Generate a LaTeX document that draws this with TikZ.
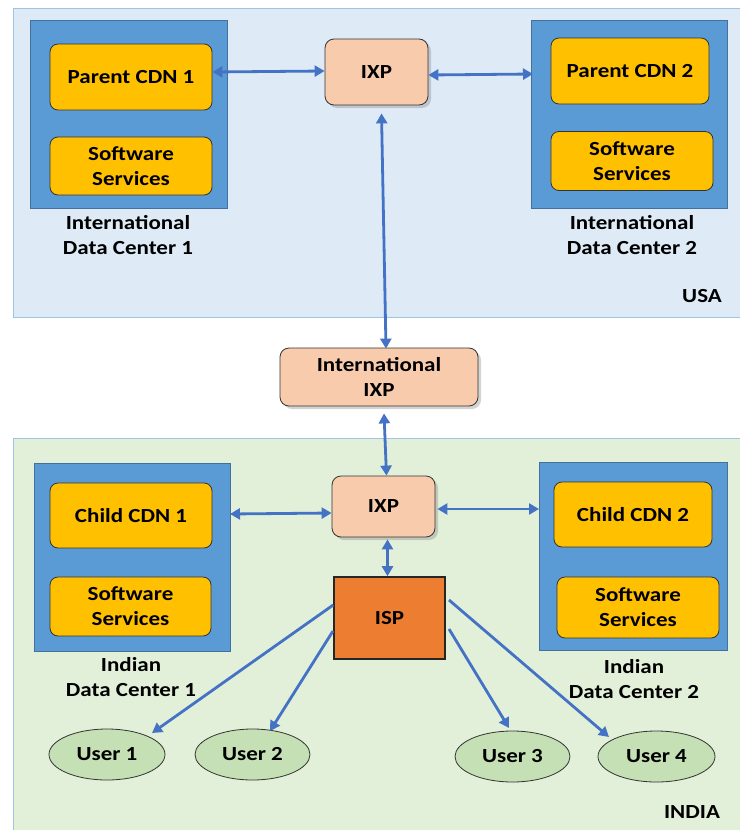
\documentclass[tikz,border=0pt]{standalone}
\usepackage{fontspec}
\setmainfont{Carlito}[FakeStretch=1.15]
\usetikzlibrary{shadows,arrows.meta,shapes.geometric}
\definecolor{usafill}{HTML}{DEEBF7}
\definecolor{indfill}{HTML}{E2F0D9}
\definecolor{regborder}{HTML}{9DC3E6}
\definecolor{dcblue}{HTML}{5B9BD5}
\definecolor{dcborder}{HTML}{41719C}
\definecolor{gold}{HTML}{FFC000}
\definecolor{peach}{HTML}{F8CBAD}
\definecolor{ispor}{HTML}{ED7D31}
\definecolor{usergreen}{HTML}{C5E0B4}
\definecolor{arrowblue}{HTML}{4472C4}
\tikzset{
  lbl/.style={font=\bfseries\fontsize{20}{25}\selectfont, align=center, text=black},
  dcbox/.style={draw=dcborder, fill=dcblue, line width=1pt},
  cdnbox/.style={draw=black!80, fill=gold, rounded corners=8pt, line width=0.8pt, lbl},
  ixpbox/.style={draw=black!80, fill=peach, rounded corners=9pt, line width=0.8pt, lbl, drop shadow={shadow xshift=3pt, shadow yshift=-3pt, opacity=0.35}},
  userell/.style={ellipse, draw=black!80, fill=usergreen, line width=0.8pt, lbl, inner sep=0pt},
  conn/.style={draw=arrowblue, line width=2.8pt, {Triangle[length=10pt,width=11pt]}-{Triangle[length=10pt,width=11pt]}},
  oneway/.style={draw=arrowblue, line width=2.8pt, -{Triangle[length=10pt,width=11pt]}},
}
\begin{document}
\begin{tikzpicture}[x=1pt,y=-1pt]
\useasboundingbox (0,0) rectangle (739,830);
% regions
\fill[usafill] (13,8) rectangle (740,317);
\draw[regborder, line width=1pt] (740,8) -- (13,8) -- (13,317) -- (740,317);
\fill[indfill] (13,438) rectangle (740,830);
\draw[regborder, line width=1pt] (740,438) -- (13,438) -- (13,830);
\node[lbl, anchor=center] (usa) at (702,296) {USA};
\node[lbl, anchor=center] (india) at (692,812) {INDIA};

% USA data centers
\draw[dcbox] (30,20) rectangle (227,208);
\node[cdnbox, minimum width=162pt, minimum height=66pt] (pcdn1) at (131,77) {Parent CDN 1};
\node[cdnbox, minimum width=162pt, minimum height=58pt] (ss1) at (131,166) {Software\\Services};
\node[lbl] (dc1) at (128,235) {International\\Data Center 1};

\draw[dcbox] (531,20) rectangle (727,208);
\node[cdnbox, minimum width=158pt, minimum height=66pt] (pcdn2) at (630,71) {Parent CDN 2};
\node[cdnbox, minimum width=162pt, minimum height=59pt] (ss2) at (632,161) {Software\\Services};
\node[lbl] (dc2) at (632,235) {International\\Data Center 2};

\node[ixpbox, minimum width=103pt, minimum height=66pt] (ixpu) at (376.5,72) {IXP};

% International IXP
\node[ixpbox, minimum width=198pt, minimum height=58pt] (iixp) at (379,377) {International\\IXP};

% India data centers
\draw[dcbox] (34,463) rectangle (230,651);
\node[cdnbox, minimum width=162pt, minimum height=65pt] (ccdn1) at (131,515.5) {Child CDN 1};
\node[cdnbox, minimum width=161pt, minimum height=59pt] (ss3) at (130.5,606.5) {Software\\Services};
\node[lbl] (dc3) at (131,677) {Indian\\Data Center 1};

\draw[dcbox] (539,462) rectangle (727,650);
\node[cdnbox, minimum width=158pt, minimum height=65pt] (ccdn2) at (633,514.5) {Child CDN 2};
\node[cdnbox, minimum width=162pt, minimum height=61pt] (ss4) at (638,607.5) {Software\\Services};
\node[lbl] (dc4) at (634,679.5) {Indian\\Data Center 2};

\node[ixpbox, minimum width=103pt, minimum height=61pt] (ixpi) at (383.5,506.5) {IXP};
\node[draw=black!85, fill=ispor, line width=1.6pt, minimum width=111pt, minimum height=82pt, lbl] (isp) at (389.5,618) {ISP};

% users
\node[userell, minimum width=116pt, minimum height=51pt] (u1) at (107,754.5) {User 1};
\node[userell, minimum width=115pt, minimum height=51pt] (u2) at (252.5,754.5) {User 2};
\node[userell, minimum width=115pt, minimum height=51pt] (u3) at (512.5,756.5) {User 3};
\node[userell, minimum width=117pt, minimum height=51pt] (u4) at (656.5,756.5) {User 4};

% connectors
\draw[conn] (pcdn1.east |- 0,72) -- (ixpu.west |- 0,71);
\draw[conn] (ixpu.east |- 0,75) -- (533,74);
\draw[conn] ([xshift=5pt,yshift=-8pt]ixpu.south) -- ([xshift=7pt,yshift=-1pt]iixp.north);
\draw[conn] ([xshift=5pt,yshift=-7pt]iixp.south) -- ([xshift=3pt]ixpi.north);
\draw[conn] (230,514) -- (ixpi.west |- 0,513);
\draw[conn] ([xshift=2pt]ixpi.east |- 0,509) -- (539,509);
\draw[conn] ([xshift=4pt,yshift=-2pt]ixpi.south) -- ([xshift=-2pt]isp.north);
\draw[oneway] (isp.west |- 0,605) -- (152,733);
\draw[oneway] (333,631) -- (270,731);
\draw[oneway] (449,629) -- (509,728);
\draw[oneway] (449,600) -- (609,737);
\end{tikzpicture}
\end{document}
